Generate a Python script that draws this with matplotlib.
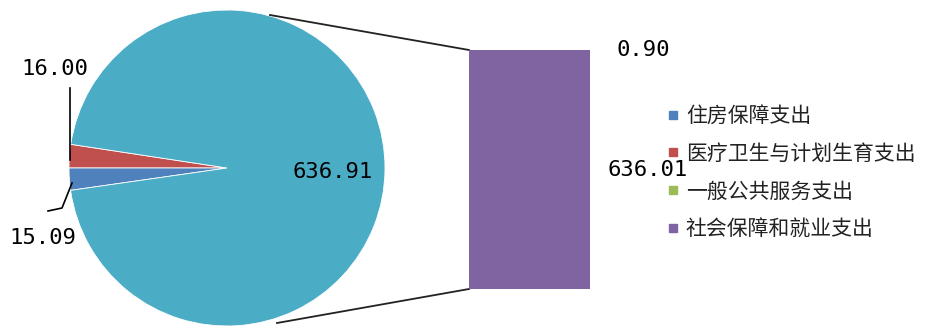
import matplotlib.pyplot as plt
from matplotlib.lines import Line2D

plt.rcParams['font.family'] = ['Noto Sans CJK SC', 'DejaVu Sans']

# data
categories = ['住房保障支出', '医疗卫生与计划生育支出', '一般公共服务支出', '社会保障和就业支出']
values = [15.09, 16.00, 0.90, 636.01]
colors = ['#4F81BD', '#C0504D', '#9BBB59', '#8064A2']
other_value = 636.91          # combined slice = last two categories
other_color = '#4BACC6'

H = 329
fig = plt.figure(figsize=(9.3, 3.29), dpi=100)
ax = fig.add_axes([0, 0, 1, 1])

# pie: red just above the left edge, blue just below, the rest is "other"
pie_vals = [values[1], values[0], other_value]
pie_cols = [colors[1], colors[0], other_color]
start = 180 - values[1] / sum(pie_vals) * 360
cx, cy, r = 227, H - 168, 158
ax.pie(pie_vals, colors=pie_cols, startangle=start, center=(cx, cy), radius=r,
       frame=True, wedgeprops=dict(edgecolor='white', linewidth=0.6))
ax.set_xlim(0, 930)
ax.set_ylim(0, H)
ax.set_aspect('equal')
ax.axis('off')

# bar of the "other" slice
bx = fig.add_axes([469 / 930, (H - 289) / H, 121 / 930, 239 / H])
bx.bar(0, values[3], width=1, color=colors[3])
bx.bar(0, values[2], bottom=values[3], width=1, color=colors[2])
bx.set_xlim(-0.5, 0.5)
bx.set_ylim(0, values[3] + values[2])
bx.axis('off')

# series lines
ax.plot([270, 469], [H - 15, H - 50], color='#222222', lw=1.3)
ax.plot([277, 469], [H - 323, H - 289], color='#222222', lw=1.3)

# data labels
num = dict(family=['DejaVu Sans Mono'], fontsize=16, color='black',
           ha='center', va='center')
ax.text(333, H - 172, f'{other_value:.2f}', **num)
ax.text(55, H - 69, f'{values[1]:.2f}', **num)
ax.text(43, H - 238, f'{values[0]:.2f}', **num)
ax.text(643, H - 50, f'{values[2]:.2f}', **num)
ax.text(648, H - 170, f'{values[3]:.2f}', **num)

# leader lines
ax.plot([70, 70], [H - 88, H - 160], color='black', lw=1.2)
ax.plot([72, 62, 48], [H - 183, H - 208, H - 211], color='black', lw=1.2)

# legend
handles = [Line2D([], [], marker='s', linestyle='none', markersize=6,
                  markerfacecolor=c, markeredgecolor=c) for c in colors]
fig.legend(handles, categories, loc='upper left',
           bbox_to_anchor=(667 / 930, 1 - 105 / H), frameon=False,
           fontsize=15, handlelength=0.6, handletextpad=0.3,
           labelspacing=0.75, borderpad=0, borderaxespad=0,
           labelcolor='#222222')

fig.savefig('out.png', dpi=100)
